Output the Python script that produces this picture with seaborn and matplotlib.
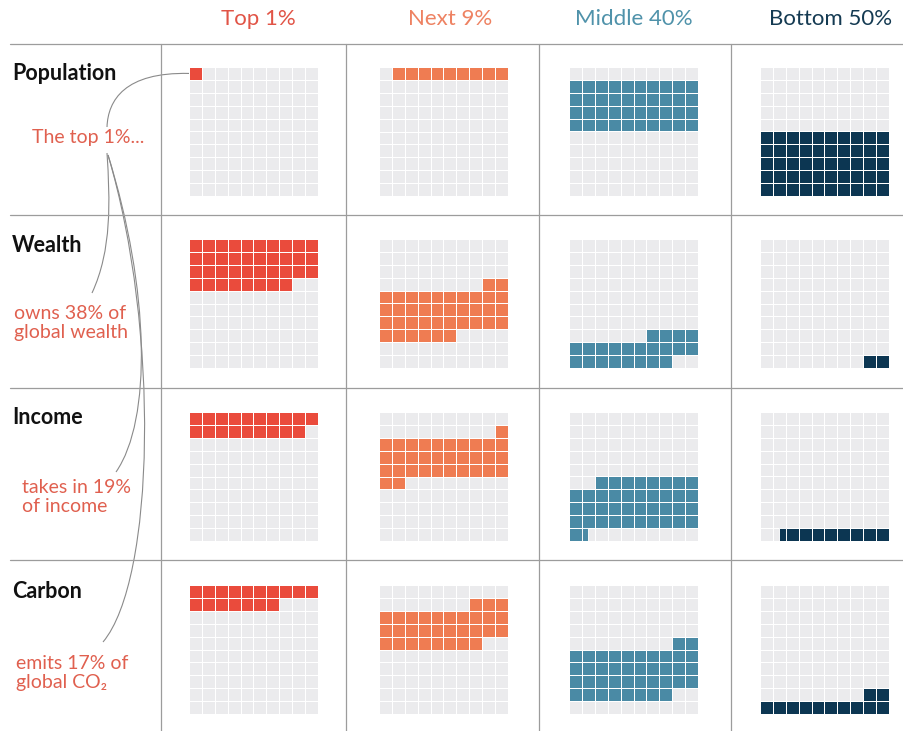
"""
Waffle grid: share of population, wealth, income and carbon held by
each global wealth group (top 1%, next 9%, middle 40%, bottom 50%).
"""
import numpy as np
import matplotlib
matplotlib.use("Agg")
import matplotlib.pyplot as plt
from matplotlib.colors import ListedColormap
from matplotlib.patches import Rectangle, PathPatch
from matplotlib.path import Path
import seaborn as sns

# ---------------- data ----------------
groups = ["Top 1%", "Next 9%", "Middle 40%", "Bottom 50%"]
metrics = ["Population", "Wealth", "Income", "Carbon"]
population = [1, 9, 40, 50]
wealth = [38, 38, 22, 2]
income = [19, 33, 39.5, 8.5]
carbon = [17, 31, 40, 12]
notes = ["The top 1%...", "owns 38% of\nglobal wealth",
         "takes in 19%\nof income", "emits 17% of\nglobal CO\u2082"]

# ---------------- styling ----------------
group_colors = ["#ea4b3c", "#ef7c52", "#4a8aa5", "#0c3652"]
header_colors = ["#e15446", "#ee8262", "#4f92aa", "#143a52"]
note_color = "#e0604f"
grey = "#ebebed"
rule = "#9c9c9c"

W, H = 904, 731
panel_x = [189, 379, 569, 760]
panel_y = [67, 239, 412, 585]
panel_size = 129
header_x = [258, 450, 634, 831]
gap = 0.65


def waffle_matrix(start, share):
    """10x10 grid: 1 for fully covered cells, plus list of partial cells."""
    mat = np.zeros((10, 10))
    partial = []
    end = start + share
    for i in range(100):
        lo, hi = max(i, start), min(i + 1, end)
        if hi - lo >= 1 - 1e-9:
            mat[i // 10, i % 10] = 1
        elif hi - lo > 1e-9:
            partial.append((i // 10, i % 10, lo - i, hi - i))
    return mat, partial


def main():
    sns.set_theme(style="white")
    plt.rcParams["font.family"] = ["Lato", "DejaVu Sans"]

    fig = plt.figure(figsize=(W / 100, H / 100), dpi=100)
    fig.patch.set_facecolor("white")

    rows = [population, wealth, income, carbon]
    for r, shares in enumerate(rows):
        starts = np.concatenate([[0], np.cumsum(shares)[:-1]])
        for c, share in enumerate(shares):
            ax = fig.add_axes([panel_x[c] / W, 1 - (panel_y[r] + panel_size) / H,
                               panel_size / W, panel_size / H])
            mat, partial = waffle_matrix(starts[c], share)
            sns.heatmap(mat, ax=ax, cmap=ListedColormap([grey, group_colors[c]]),
                        vmin=0, vmax=1, cbar=False, square=True,
                        linewidths=gap, linecolor="white",
                        xticklabels=False, yticklabels=False)
            for row, col, f0, f1 in partial:
                ax.add_patch(Rectangle((col + f0, row), f1 - f0, 1,
                                       facecolor=group_colors[c],
                                       edgecolor="white", linewidth=gap))
            ax.set_axis_off()

    # overlay in pixel coordinates for rules, labels and connectors
    ov = fig.add_axes([0, 0, 1, 1])
    ov.set_xlim(0, W)
    ov.set_ylim(H, 0)
    ov.set_axis_off()
    ov.patch.set_alpha(0)

    for y in [44, 215, 388, 560]:
        ov.plot([10, W], [y, y], color=rule, lw=0.9)
    for x in [161, 346, 539, 731]:
        ov.plot([x, x], [44, H], color=rule, lw=0.9)

    for g, x, col in zip(groups, header_x, header_colors):
        ov.text(x, 19, g, color=col, fontsize=16, ha="center", va="center")

    label_y = [73, 245, 418, 592]
    for m, y in zip(metrics, label_y):
        ov.text(12, y, m, fontsize=15.5, fontweight="bold", color="#111111",
                ha="left", va="center")

    note_pos = [(32, 137), (14, 323), (22, 497), (16, 673)]
    for txt, (x, y) in zip(notes, note_pos):
        ov.text(x, y, txt, fontsize=14, color=note_color, ha="left",
                va="center", linespacing=1.1)

    # connectors from the population top-1% square to each note
    sx, sy = panel_x[0], panel_y[0] + panel_size / 20
    curves = [
        [(sx, sy), (125, 72), (108, 100), (107, 127)],
        [(107, 153), (110, 200), (112, 250), (92, 293)],
        [(108, 155), (150, 290), (152, 420), (116, 472)],
        [(108, 155), (160, 330), (155, 580), (103, 642)],
    ]
    codes = [Path.MOVETO, Path.CURVE4, Path.CURVE4, Path.CURVE4]
    for pts in curves:
        ov.add_patch(PathPatch(Path(pts, codes), facecolor="none",
                               edgecolor="#8a8a8a", lw=0.8))

    fig.savefig("out.png", dpi=100, facecolor="white")
    plt.close(fig)


if __name__ == "__main__":
    main()
